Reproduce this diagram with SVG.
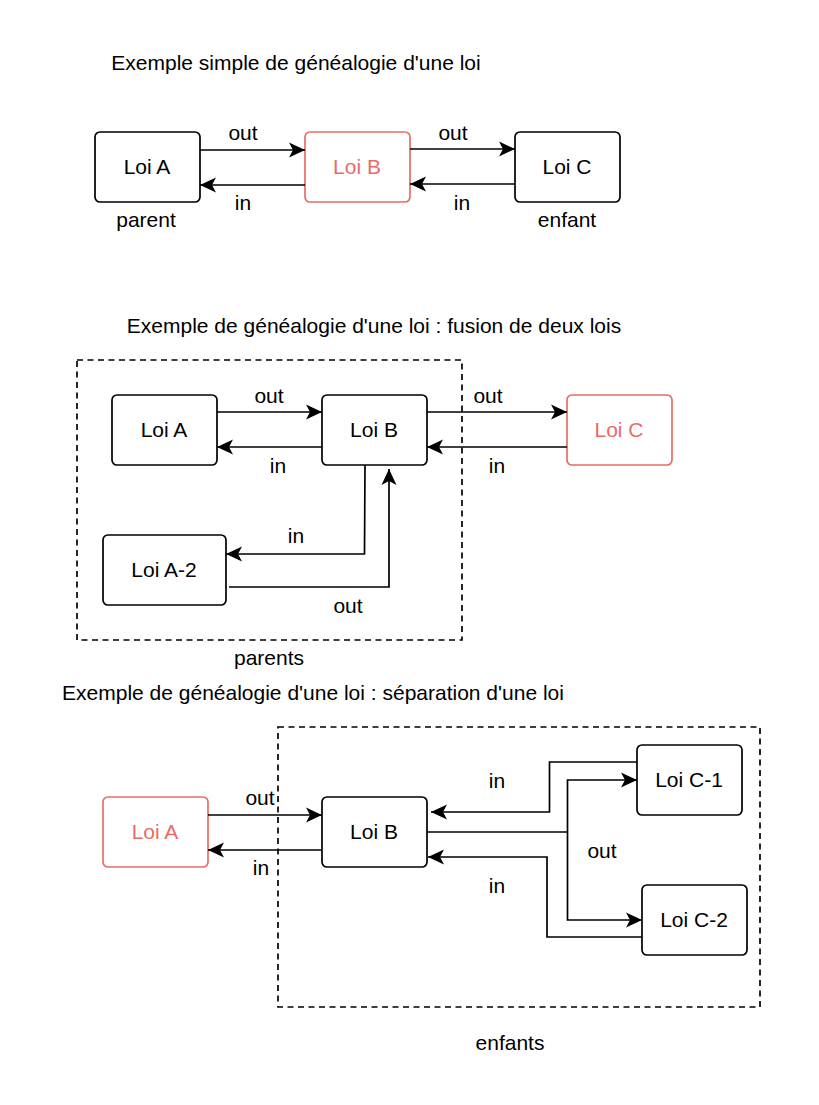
<svg xmlns="http://www.w3.org/2000/svg" width="819" height="1105" viewBox="0 0 819 1105">
<defs>
<marker id="arr" viewBox="-17 -9 18 18" markerWidth="18" markerHeight="18" refX="0" refY="0" orient="auto" markerUnits="userSpaceOnUse">
<path d="M0,0 L-16,-7.5 L-12,0 L-16,7.5 Z" fill="#000"/>
</marker>
</defs>
<style>
text{font-family:"Liberation Sans",Arial,sans-serif;font-size:21px;fill:#000;text-anchor:middle}
.box{fill:#fff;stroke:#000;stroke-width:1.7}
.red rect{stroke:#EA6B66}
.red text{fill:#EA6B66}
.c{fill:none;stroke:#000;stroke-width:1.7}
.a{marker-end:url(#arr)}
.dash{fill:none;stroke:#000;stroke-width:1.7;stroke-dasharray:6 4.5}
</style>
<rect width="819" height="1105" fill="#fff"/>

<!-- Section 1 -->
<text x="296" y="70">Exemple simple de généalogie d'une loi</text>
<g id="s1-loiA"><rect class="box" x="95" y="132" width="105" height="70" rx="5"/><text x="147" y="174">Loi A</text></g>
<g id="s1-loiB" class="red"><rect class="box" x="305" y="132" width="105" height="70" rx="5"/><text x="357" y="174">Loi B</text></g>
<g id="s1-loiC"><rect class="box" x="515" y="132" width="105" height="70" rx="5"/><text x="567" y="174">Loi C</text></g>
<text x="146" y="227">parent</text>
<text x="567" y="227">enfant</text>

<!-- Section 2 -->
<text x="374" y="333">Exemple de généalogie d'une loi : fusion de deux lois</text>
<rect class="dash" x="77" y="360" width="385" height="280"/>
<g id="s2-loiA"><rect class="box" x="112" y="395" width="105" height="70" rx="5"/><text x="164" y="437">Loi A</text></g>
<g id="s2-loiB"><rect class="box" x="322" y="395" width="105" height="70" rx="5"/><text x="374" y="437">Loi B</text></g>
<g id="s2-loiC" class="red"><rect class="box" x="567" y="395" width="105" height="70" rx="5"/><text x="619" y="437">Loi C</text></g>
<g id="s2-loiA2"><rect class="box" x="103" y="535" width="123" height="70" rx="5"/><text x="164" y="577">Loi A-2</text></g>
<text x="269" y="665">parents</text>

<!-- Section 3 -->
<text x="313" y="700">Exemple de généalogie d'une loi : séparation d'une loi</text>
<rect class="dash" x="278" y="727" width="482" height="280"/>
<g id="s3-loiA" class="red"><rect class="box" x="103" y="797" width="105" height="70" rx="5"/><text x="155" y="839">Loi A</text></g>
<g id="s3-loiB"><rect class="box" x="322" y="797" width="105" height="70" rx="5"/><text x="374" y="839">Loi B</text></g>
<g id="s3-loiC1"><rect class="box" x="637" y="745" width="105" height="70" rx="5"/><text x="689" y="787">Loi C-1</text></g>
<g id="s3-loiC2"><rect class="box" x="642" y="885" width="105" height="70" rx="5"/><text x="694" y="927">Loi C-2</text></g>
<text x="510" y="1050">enfants</text>

<g id="connectors">
<!-- s1 -->
<path class="c a" d="M200,150 H305"/>
<path class="c a" d="M305,185 H200"/>
<path class="c a" d="M410,149 H515"/>
<path class="c a" d="M515,184 H410"/>
<text x="243" y="140">out</text>
<text x="243" y="210">in</text>
<text x="453" y="140">out</text>
<text x="462" y="210">in</text>
<!-- s2 -->
<path class="c a" d="M217,412 H322"/>
<path class="c a" d="M322,447 H217"/>
<path class="c a" d="M427,412 H567"/>
<path class="c a" d="M567,447 H427"/>
<path class="c a" d="M365,465 L364.5,554 H226"/>
<path class="c a" d="M229,587 H389 V469"/>
<text x="269" y="403">out</text>
<text x="278" y="473">in</text>
<text x="488" y="403">out</text>
<text x="497" y="473">in</text>
<text x="296" y="543">in</text>
<text x="348" y="613">out</text>
<!-- s3 -->
<path class="c a" d="M208,815 H322"/>
<path class="c a" d="M322,850 H208"/>
<path class="c a" d="M637,762 H549.5 V812 H431"/>
<path class="c" d="M427,832 H567.5"/>
<path class="c a" d="M567.5,832 V780 H637"/>
<path class="c a" d="M567.5,832 V920 H642"/>
<path class="c a" d="M642,937 H547 V857 H428"/>
<text x="260" y="805">out</text>
<text x="261" y="875">in</text>
<text x="497" y="788">in</text>
<text x="602" y="858">out</text>
<text x="497" y="893">in</text>
</g>
</svg>
